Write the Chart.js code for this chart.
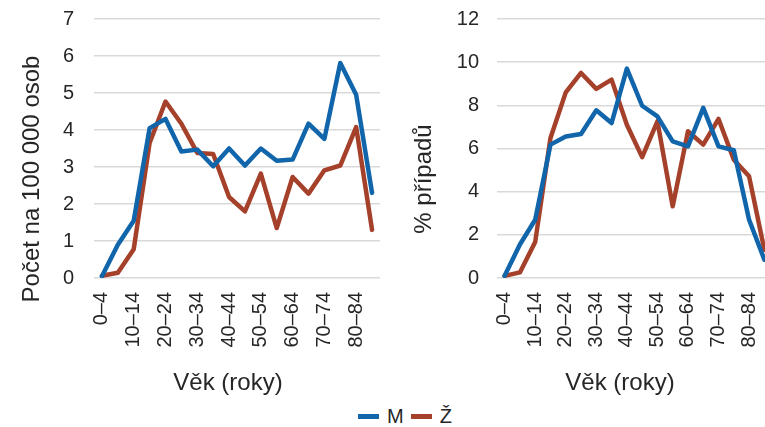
<!DOCTYPE html>
<html>
<head>
<meta charset="utf-8">
<script src="https://cdn.jsdelivr.net/npm/chart.js@4/dist/chart.umd.min.js"></script>
<style>
  html, body { margin: 0; padding: 0; background: #fff; }
  body { width: 765px; height: 427px; overflow: hidden; position: relative; font-family: "Liberation Sans", Arial, sans-serif; }
  #left { position: absolute; left: 0; top: 0; }
  #right { position: absolute; left: 392px; top: 0; }
  #legend { position: absolute; left: 358px; top: 405px; display: flex; align-items: center; font-size: 20px; color: #262626; }
  #legend .sw { display: inline-block; width: 21px; height: 5px; margin-right: 8px; }
  #legend .item { display: flex; align-items: center; margin-right: 7px; }
</style>
</head>
<body>
<canvas id="left" width="390" height="400"></canvas>
<canvas id="right" width="380" height="400"></canvas>
<div id="legend">
  <span class="item"><span class="sw" style="background:#1065AB"></span>M</span>
  <span class="item"><span class="sw" style="background:#A5402A"></span>Ž</span>
</div>
<script>
// age groups (every other one is labelled on the axis)
const ageGroups = ["0–4", "5–9", "10–14", "15–19", "20–24", "25–29", "30–34", "35–39", "40–44",
  "45–49", "50–54", "55–59", "60–64", "65–69", "70–74", "75–79", "80–84", "85+"];

// rate per 100 000 persons
const rateM = [0.05, 0.9, 1.55, 4.05, 4.3, 3.42, 3.47, 3.02, 3.5, 3.04, 3.5, 3.17, 3.2, 4.17, 3.76, 5.81, 4.95, 2.3];
const rateZ = [0.06, 0.14, 0.78, 3.65, 4.77, 4.17, 3.38, 3.35, 2.19, 1.8, 2.82, 1.35, 2.73, 2.28, 2.91, 3.04, 4.08, 1.3];

// % of cases
const pctM = [0.1, 1.55, 2.7, 6.18, 6.56, 6.67, 7.77, 7.18, 9.7, 7.98, 7.49, 6.33, 6.1, 7.88, 6.1, 5.92, 2.7, 0.85];
const pctZ = [0.1, 0.26, 1.67, 6.49, 8.6, 9.5, 8.76, 9.19, 7.1, 5.6, 7.26, 3.32, 6.8, 6.18, 7.37, 5.48, 4.71, 1.31];

const seriesNames = ["M", "Ž"];
const colors = ["#1065AB", "#A5402A"];

Chart.defaults.font.family = "'Liberation Sans', Arial, sans-serif";
Chart.defaults.color = "#262626";

// axis titles in the original are not centred on the plot;
// move them while the axes draw, restore before the lines are clipped
function titlesAt(cx, cy) {
  let sx, sy;
  return {
    id: "titlesAt",
    beforeDraw(chart) {
      const x = chart.scales.x, y = chart.scales.y;
      sx = x.right;
      sy = [y.top, y.bottom];
      x.right = 2 * cx - x.left;
      const d = cy - (y.top + y.bottom) / 2;
      y.top += d;
      y.bottom += d;
    },
    beforeDatasetsDraw(chart) {
      chart.scales.x.right = sx;
      chart.scales.y.top = sy[0];
      chart.scales.y.bottom = sy[1];
    },
  };
}

function makeChart(id, m, z, yMax, yStep, yTitle, yWidth, titlePad, tickPad, padRight) {
  const ctx = document.getElementById(id).getContext("2d");
  return new Chart(ctx, {
    type: "line",
    data: {
      labels: ageGroups,
      datasets: [m, z].map((d, i) => ({
        label: seriesNames[i],
        data: d,
        borderColor: colors[i],
        backgroundColor: colors[i],
        borderWidth: 4.5,
        pointRadius: 0,
        tension: 0,
        borderJoinStyle: "round",
        borderCapStyle: "round",
      })),
    },
    options: {
      responsive: false,
      animation: false,
      layout: { padding: { top: 19, right: padRight, bottom: 0, left: 0 } },
      plugins: { legend: { display: false }, tooltip: { enabled: false } },
      scales: {
        x: {
          offset: true,
          grid: { display: false, drawTicks: false },
          border: { display: false },
          ticks: {
            autoSkip: false,
            maxRotation: 90,
            minRotation: 90,
            padding: 14,
            font: { size: 20 },
            callback: function (v, i) { return i % 2 === 0 ? ageGroups[i] : ""; },
          },
          title: { display: true, text: "Věk (roky)", font: { size: 24 }, padding: { top: 0, bottom: 2 } },
          afterFit: function (s) {
            s.height = 122;
            s.paddingLeft = 0;
            s.paddingRight = 0;
          },
        },
        y: {
          min: 0,
          max: yMax,
          grid: { color: "#d9d9d9", lineWidth: 1.5, drawTicks: false },
          border: { display: false },
          ticks: { stepSize: yStep, padding: tickPad, font: { size: 20 } },
          title: { display: true, text: yTitle, font: { size: 24 }, padding: { top: titlePad, bottom: 0 } },
          afterFit: function (s) {
            s.width = yWidth;
            s.paddingTop = 0;
            s.paddingBottom = 0;
          },
        },
      },
    },
    plugins: [titlesAt(228, 179)],
  });
}

makeChart("left", rateM, rateZ, 7, 1, "Počet na 100 000 osob", 94, 18, 20, 10);
makeChart("right", pctM, pctZ, 12, 2, "% případů", 105, 18, 18, 0);
</script>
</body>
</html>
